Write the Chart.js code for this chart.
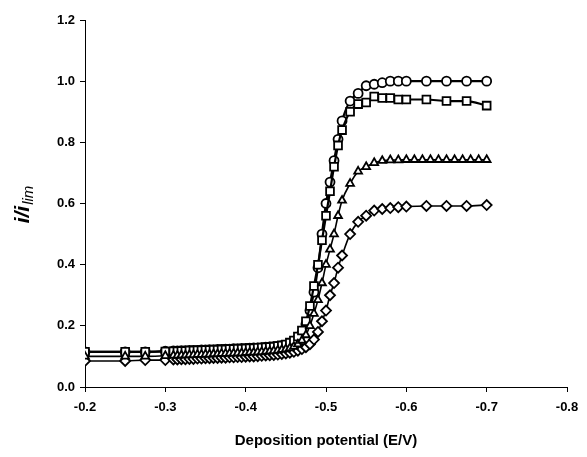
<!DOCTYPE html>
<html lang="en">
<head>
<meta charset="UTF-8">
<script src="https://cdn.jsdelivr.net/npm/chart.js"></script>
<title>Deposition potential</title>
<style>
  body { margin: 0; background: #fff; }
</style>
</head>
<body>
<canvas id="grafico" width="587" height="457"></canvas>
<script>
// deposition potentials (V) shared by circles, squares and diamonds
const potenciales = [-0.2, -0.25, -0.275, -0.3,
  -0.31, -0.315, -0.32, -0.325, -0.33, -0.335, -0.34, -0.345, -0.35, -0.355,
  -0.36, -0.365, -0.37, -0.375, -0.38, -0.385, -0.39, -0.395, -0.4, -0.405,
  -0.41, -0.415, -0.42, -0.425, -0.43, -0.435, -0.44, -0.445, -0.45,
  -0.455, -0.46, -0.465, -0.47, -0.475, -0.48, -0.485, -0.49, -0.495, -0.5,
  -0.505, -0.51, -0.515, -0.52,
  -0.53, -0.54, -0.55, -0.56, -0.57, -0.58, -0.59, -0.6, -0.625, -0.65, -0.675, -0.7];

// triangles are sampled every 0.01 V on the plateau
const potencialesTri = [-0.2, -0.25, -0.275, -0.3,
  -0.31, -0.315, -0.32, -0.325, -0.33, -0.335, -0.34, -0.345, -0.35, -0.355,
  -0.36, -0.365, -0.37, -0.375, -0.38, -0.385, -0.39, -0.395, -0.4, -0.405,
  -0.41, -0.415, -0.42, -0.425, -0.43, -0.435, -0.44, -0.445, -0.45,
  -0.455, -0.46, -0.465, -0.47, -0.475, -0.48, -0.485, -0.49, -0.495, -0.5,
  -0.505, -0.51, -0.515, -0.52,
  -0.53, -0.54, -0.55, -0.56, -0.57, -0.58, -0.59, -0.6, -0.61, -0.62, -0.63,
  -0.64, -0.65, -0.66, -0.67, -0.68, -0.69, -0.7];

const circulos = [0.115, 0.115, 0.115, 0.117,
  0.118, 0.118, 0.119, 0.119, 0.12, 0.12, 0.12, 0.121, 0.121, 0.122,
  0.122, 0.123, 0.123, 0.124, 0.124, 0.125, 0.125, 0.126, 0.126, 0.127,
  0.128, 0.128, 0.129, 0.13, 0.131, 0.132, 0.133, 0.135, 0.137,
  0.142, 0.148, 0.158, 0.175, 0.205, 0.25, 0.31, 0.39, 0.5, 0.6,
  0.67, 0.74, 0.81, 0.87,
  0.935, 0.96, 0.985, 0.99, 0.995, 1.0, 1.0, 1.0, 1.0, 1.0, 1.0, 1.0];

const cuadrados = [0.115, 0.115, 0.115, 0.116,
  0.117, 0.117, 0.118, 0.118, 0.119, 0.119, 0.12, 0.12, 0.121, 0.121,
  0.122, 0.122, 0.123, 0.123, 0.124, 0.124, 0.125, 0.125, 0.126, 0.127,
  0.127, 0.128, 0.129, 0.13, 0.131, 0.132, 0.134, 0.136, 0.139,
  0.145, 0.152, 0.165, 0.185, 0.215, 0.265, 0.33, 0.4, 0.48, 0.56,
  0.64, 0.72, 0.79, 0.84,
  0.9, 0.925, 0.93, 0.95, 0.945, 0.945, 0.94, 0.94, 0.94, 0.935, 0.935, 0.92];

const triangulos = [0.1, 0.1, 0.1, 0.102,
  0.103, 0.103, 0.104, 0.104, 0.105, 0.105, 0.106, 0.106, 0.107, 0.107,
  0.108, 0.108, 0.109, 0.109, 0.11, 0.11, 0.111, 0.111, 0.112, 0.113,
  0.113, 0.114, 0.115, 0.116, 0.117, 0.118, 0.12, 0.122, 0.124,
  0.127, 0.132, 0.14, 0.152, 0.17, 0.2, 0.24, 0.285, 0.34, 0.4,
  0.45, 0.5, 0.56, 0.61,
  0.665, 0.705, 0.72, 0.733, 0.74, 0.742, 0.742, 0.743, 0.743, 0.743, 0.743,
  0.743, 0.743, 0.743, 0.743, 0.743, 0.743, 0.743];

const diamantes = [0.085, 0.085, 0.088, 0.088,
  0.09, 0.09, 0.091, 0.091, 0.092, 0.092, 0.093, 0.093, 0.094, 0.094,
  0.095, 0.095, 0.096, 0.096, 0.097, 0.097, 0.098, 0.098, 0.099, 0.1,
  0.1, 0.101, 0.102, 0.103, 0.104, 0.105, 0.106, 0.108, 0.11,
  0.112, 0.115, 0.119, 0.124, 0.13, 0.14, 0.155, 0.18, 0.215, 0.25,
  0.3, 0.34, 0.39, 0.43,
  0.5, 0.54, 0.56, 0.577, 0.582, 0.585, 0.588, 0.59, 0.592, 0.592, 0.592, 0.595];

const ticksX = [-0.2, -0.3, -0.4, -0.5, -0.6, -0.7, -0.8];
const ticksY = [0, 0.2, 0.4, 0.6, 0.8, 1.0, 1.2];

const tituloX = 'Deposition potential (E/V)';

function puntos(xs, ys) {
    return xs.map((x, i) => ({ x: x, y: ys[i] }));
}

function serie(xs, ys, estilo, radio, grosor) {
    return {
        data: puntos(xs, ys),
        showLine: true,
        borderColor: '#000',
        borderWidth: grosor,
        backgroundColor: '#fff',
        pointStyle: estilo,
        pointRadius: radio,
        pointBorderWidth: 1.8,
        pointBorderColor: '#000',
        pointBackgroundColor: '#fff',
        cubicInterpolationMode: 'monotone'
    };
}

// axis titles drawn by hand (the y one has a subscript)
const titulos = {
    id: 'titulos',
    afterDraw(chart) {
        const ctx = chart.ctx;
        const area = chart.chartArea;
        ctx.save();
        ctx.fillStyle = '#000';
        ctx.font = 'bold 15px "Liberation Sans", Arial, sans-serif';
        ctx.textAlign = 'center';
        ctx.textBaseline = 'middle';
        ctx.fillText(tituloX, (area.left + area.right) / 2, 441);

        ctx.translate(29, 205);
        ctx.rotate(-Math.PI / 2);
        ctx.textAlign = 'left';
        ctx.textBaseline = 'alphabetic';
        ctx.font = 'bold italic 21px "Liberation Sans", Arial, sans-serif';
        const principal = 'i/i';
        const ancho = ctx.measureText(principal).width;
        ctx.font = 'italic 15px "Liberation Sans", Arial, sans-serif';
        const anchoSub = ctx.measureText('lim').width;
        const inicio = -(ancho + anchoSub) / 2;
        ctx.font = 'bold italic 21px "Liberation Sans", Arial, sans-serif';
        ctx.fillText(principal, inicio, 0);
        ctx.font = 'italic 15px "Liberation Sans", Arial, sans-serif';
        ctx.fillText('lim', inicio + ancho + 1, 4);
        ctx.restore();
    }
};

new Chart(document.getElementById('grafico'), {
    type: 'scatter',
    data: {
        datasets: [
            serie(potencialesTri, triangulos, 'triangle', 4.5, 1.6),
            serie(potenciales, diamantes, 'rectRot', 5, 1.6),
            serie(potenciales, cuadrados, 'rect', 5.5, 2.2),
            serie(potenciales, circulos, 'circle', 4.5, 2.2)
        ]
    },
    options: {
        responsive: false,
        animation: false,
        devicePixelRatio: 1,
        layout: { padding: { top: 20, right: 20, left: 0, bottom: 0 } },
        plugins: {
            legend: { display: false },
            tooltip: { enabled: false }
        },
        scales: {
            x: {
                type: 'linear',
                reverse: true,
                min: -0.8,
                max: -0.2,
                afterFit(s) { s.height = 70; },
                afterBuildTicks(s) { s.ticks = ticksX.map(v => ({ value: v })); },
                border: { color: '#000', width: 1 },
                grid: { drawOnChartArea: false, color: '#000', tickLength: 5 },
                ticks: {
                    color: '#000',
                    padding: 8,
                    maxRotation: 0,
                    font: { family: '"Liberation Sans", Arial, sans-serif', size: 13, weight: 'bold' },
                    callback: v => v.toFixed(1)
                }
            },
            y: {
                min: 0,
                max: 1.2,
                afterFit(s) { s.width = 85; },
                afterBuildTicks(s) { s.ticks = ticksY.map(v => ({ value: v })); },
                border: { color: '#000', width: 1 },
                grid: { drawOnChartArea: false, color: '#000', tickLength: 5 },
                ticks: {
                    color: '#000',
                    padding: 5,
                    font: { family: '"Liberation Sans", Arial, sans-serif', size: 13, weight: 'bold' },
                    callback: v => v.toFixed(1)
                }
            }
        }
    },
    plugins: [titulos]
});
</script>
</body>
</html>
